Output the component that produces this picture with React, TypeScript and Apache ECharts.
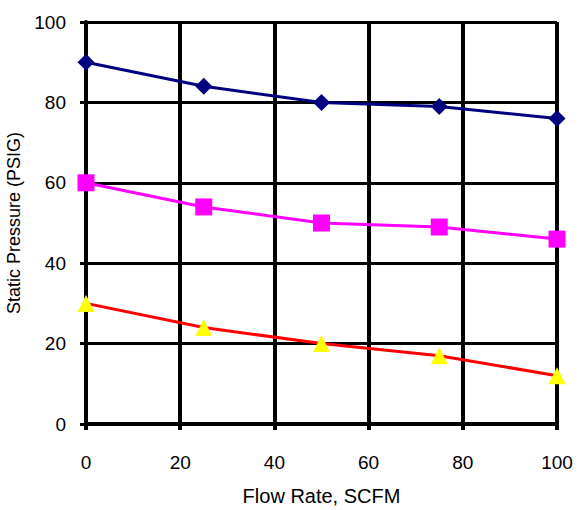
import React, { useEffect, useRef } from "react";
import * as echarts from "echarts";

const flowRates = [0, 25, 50, 75, 100];
const seriesTop = [90, 84, 80, 79, 76];
const seriesMid = [60, 54, 50, 49, 46];
const seriesLow = [30, 24, 20, 17, 12];
const xAxisName = "Flow Rate, SCFM";
const yAxisName = "Static Pressure (PSIG)";

export default function App() {
  const ref = useRef<HTMLDivElement>(null);
  useEffect(() => {
    if (!ref.current) return;
    const chart = echarts.init(ref.current, null, { renderer: "svg" });
    const pair = (ys: number[]) => flowRates.map((x, i) => [x, ys[i]]);
    const font = "Liberation Sans, Arial, sans-serif";
    chart.setOption({
      animation: false,
      backgroundColor: "#fff",
      grid: {
        left: 86,
        right: 22,
        top: 22,
        bottom: 86,
        containLabel: false,
        outerBoundsMode: "none",
      },
      xAxis: {
        type: "value",
        min: 0,
        max: 100,
        interval: 20,
        name: xAxisName,
        nameLocation: "middle",
        nameGap: 62,
        nameTextStyle: { fontFamily: font, fontSize: 20, color: "#000" },
        axisLine: { show: true, onZero: false, lineStyle: { color: "#000", width: 4 } },
        axisTick: { show: true, length: 6, lineStyle: { color: "#000", width: 4 } },
        axisLabel: { fontFamily: font, fontSize: 19, color: "#000", margin: 29 },
        splitLine: { show: true, lineStyle: { color: "#000", width: 4 } },
      },
      yAxis: {
        type: "value",
        min: 0,
        max: 100,
        interval: 20,
        name: yAxisName,
        nameLocation: "middle",
        nameGap: 63,
        nameRotate: 90,
        nameTextStyle: { fontFamily: font, fontSize: 18, color: "#000" },
        axisLine: { show: true, onZero: false, lineStyle: { color: "#000", width: 4 } },
        axisTick: { show: true, length: 6, lineStyle: { color: "#000", width: 3 } },
        axisLabel: { fontFamily: font, fontSize: 19, color: "#000", margin: 20 },
        splitLine: { show: true, lineStyle: { color: "#000", width: 3 } },
      },
      series: [
        {
          type: "line",
          data: pair(seriesTop),
          symbol: "diamond",
          symbolSize: 17,
          lineStyle: { color: "#000080", width: 3 },
          itemStyle: { color: "#000080" },
        },
        {
          type: "line",
          data: pair(seriesMid),
          symbol: "rect",
          symbolSize: 17,
          lineStyle: { color: "#FF00FF", width: 3 },
          itemStyle: { color: "#FF00FF" },
        },
        {
          type: "line",
          data: pair(seriesLow),
          symbol: "triangle",
          symbolSize: 17,
          lineStyle: { color: "#FF0000", width: 3 },
          itemStyle: { color: "#FFFF00" },
        },
      ],
    });
    return () => chart.dispose();
  }, []);
  return <div ref={ref} style={{ width: 579, height: 510, position: "absolute", left: 0, top: 0 }} />;
}
